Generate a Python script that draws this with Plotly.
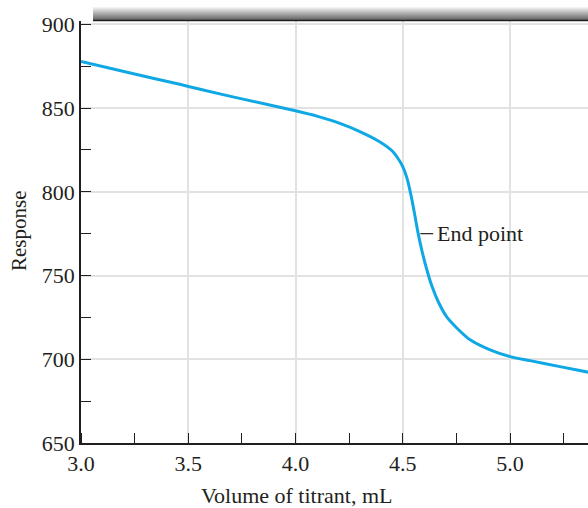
import plotly.graph_objects as go

volume = [3.0, 3.25, 3.46, 3.555, 3.75, 4.0, 4.1, 4.207, 4.3, 4.394, 4.45, 4.475, 4.5,
          4.52, 4.54, 4.557, 4.572, 4.59, 4.61, 4.635, 4.665, 4.705, 4.752, 4.814, 4.907,
          5.0, 5.093, 5.233, 5.364]
response = [877.8, 870.3, 864.2, 861.2, 855.5, 848.4, 845.2, 840.9, 836.0, 829.8, 824.5,
            820.5, 815.0, 808.0, 797.0, 785.5, 775.0, 764.5, 754.5, 744.0, 734.5, 725.3,
            718.7, 711.6, 705.6, 701.6, 699.2, 695.6, 692.3]
x_ticks = [3.0, 3.5, 4.0, 4.5, 5.0]
x_ticklabels = ["3.0", "3.5", "4.0", "4.5", "5.0"]
y_ticks = [650, 700, 750, 800, 850, 900]
end_point = (4.572, 775.0)

FONT = "Liberation Serif"
INK = "#231f20"
W, H = 588, 508
L, T, B = 81, 21, 65
PW, PH = W - L, H - T - B
X_PER_UNIT = 214.5

fig = go.Figure()
fig.add_trace(go.Scatter(x=volume, y=response, mode="lines",
                         line=dict(color="#10a8e4", width=3, shape="spline", smoothing=0.8),
                         hoverinfo="skip", showlegend=False))

def px_x(p):
    return (p - L) / PW
def px_y(p):
    return (H - B - p) / PH

# gradient bar at the top
n = 13
for i in range(n):
    g = int(242 - (242 - 105) * i / (n - 1))
    fig.add_shape(type="rect", xref="paper", yref="paper",
                  x0=px_x(93), x1=1.0, y0=px_y(7 + i + 1), y1=px_y(7 + i),
                  fillcolor=f"rgb({g},{g},{g})", line=dict(width=0), layer="above")
fig.add_shape(type="line", xref="paper", yref="paper", x0=px_x(93), x1=1.0,
              y0=px_y(20.5), y1=px_y(20.5), line=dict(color=INK, width=1.6))

# end point label
fig.add_shape(type="line", xref="x", yref="y", x0=end_point[0] + 0.01, x1=end_point[0] + 0.07,
              y0=end_point[1], y1=end_point[1], line=dict(color=INK, width=1.2))
fig.add_annotation(x=end_point[0] + 0.08, y=end_point[1], xref="x", yref="y",
                   text="End point", showarrow=False, xanchor="left", yanchor="middle",
                   font=dict(family=FONT, size=22, color=INK))

fig.add_annotation(x=px_x(296), y=px_y(495), xref="paper", yref="paper",
                   text="Volume of titrant, mL", showarrow=False,
                   xanchor="center", yanchor="middle",
                   font=dict(family=FONT, size=22, color=INK))
fig.add_annotation(x=px_x(19), y=px_y(231), xref="paper", yref="paper",
                   text="Response", showarrow=False, textangle=-90,
                   xanchor="center", yanchor="middle",
                   font=dict(family=FONT, size=21, color=INK))
fig.add_annotation(x=px_x(38), y=px_y(501), xref="paper", yref="paper",
                   text="(b)", showarrow=False, xanchor="center", yanchor="top",
                   font=dict(family=FONT, size=22, color=INK))

fig.update_xaxes(range=[3.0, 3.0 + PW / X_PER_UNIT], tickvals=x_ticks, ticktext=x_ticklabels,
                 showgrid=True, gridcolor="#e2e2e2", gridwidth=1.5,
                 showline=True, linecolor=INK, linewidth=1.5, ticks="",
                 zeroline=False, tickfont=dict(family=FONT, size=22, color=INK),
                 minor=dict(ticks="inside", ticklen=10, tickcolor=INK, tickwidth=1.2,
                            dtick=0.25, tick0=3.0, showgrid=False))
fig.update_yaxes(range=[650, 902], tickvals=y_ticks,
                 showgrid=True, gridcolor="#e2e2e2", gridwidth=1.5,
                 showline=True, linecolor=INK, linewidth=1.5, ticks="",
                 zeroline=False, tickfont=dict(family=FONT, size=22, color=INK),
                 minor=dict(ticks="inside", ticklen=10, tickcolor=INK, tickwidth=1.2,
                            dtick=25, tick0=650, showgrid=False))

fig.update_layout(width=W, height=H, margin=dict(l=L, r=0, t=T, b=B),
                  plot_bgcolor="white", paper_bgcolor="white")
fig.write_html("out.html")
